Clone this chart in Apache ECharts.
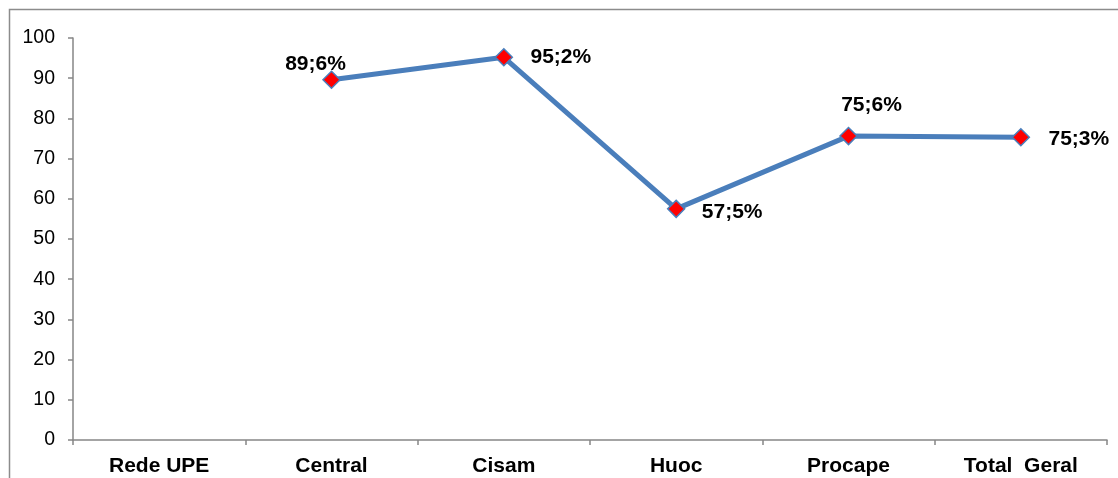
<!DOCTYPE html>
<html>
<head>
<meta charset="utf-8">
<script src="https://cdn.jsdelivr.net/npm/echarts@6/dist/echarts.min.js"></script>
<style>
html,body{margin:0;padding:0;background:#fff;}
#chart{width:1118px;height:478px;}
</style>
</head>
<body>
<div id="chart"></div>
<script>
const categories = ['Rede UPE', 'Central', 'Cisam', 'Huoc', 'Procape', 'Total  Geral'];
const values = [null, 89.6, 95.2, 57.5, 75.6, 75.3];
const yTicks = { min: 0, max: 100, interval: 10 };
const labelOffsets = [[0, 0], [-16, -16], [57, 0], [56, 3], [23, -31], [58, 2]];

const chart = echarts.init(document.getElementById('chart'), null, { renderer: 'canvas' });
const fontFamily = '"Liberation Sans", Arial, sans-serif';

chart.setOption({
  animation: false,
  backgroundColor: '#fff',
  graphic: [{
    type: 'rect',
    shape: { x: 9.5, y: 9.5, width: 1200, height: 600 },
    style: { fill: 'none', stroke: '#8c8c8c', lineWidth: 1.5 },
    silent: true
  }],
  grid: { left: 73, right: 11, top: 38, bottom: 38, containLabel: false },
  xAxis: {
    type: 'category',
    data: categories,
    boundaryGap: true,
    axisLine: { lineStyle: { color: '#868686', width: 1.5 } },
    axisTick: { show: true, length: 5, lineStyle: { color: '#868686', width: 1.5 } },
    axisLabel: { color: '#000', fontFamily, fontWeight: 'bold', fontSize: 21, margin: 16, interval: 0 },
    splitLine: { show: false }
  },
  yAxis: {
    type: 'value',
    min: yTicks.min, max: yTicks.max, interval: yTicks.interval,
    axisLine: { show: true, lineStyle: { color: '#868686', width: 1.5 } },
    axisTick: { show: true, length: 5, lineStyle: { color: '#868686', width: 1.5 } },
    axisLabel: { color: '#000', fontFamily, fontSize: 19.5, margin: 18 },
    splitLine: { show: false }
  },
  series: [{
    type: 'line',
    data: values.map((v, i) => ({
      value: v,
      label: {
        show: v != null,
        position: 'inside',
        offset: labelOffsets[i]
      }
    })),
    connectNulls: false,
    symbol: 'diamond',
    symbolSize: 17,
    showSymbol: true,
    lineStyle: { color: '#4a7ebb', width: 5 },
    itemStyle: { color: '#ff0000', borderColor: '#4a7ebb', borderWidth: 1.5 },
    label: {
      show: true,
      color: '#000',
      fontFamily,
      fontWeight: 'bold',
      fontSize: 21,
      formatter: p => p.value == null ? '' : p.value.toFixed(1).replace('.', ';') + '%'
    }
  }]
});
</script>
</body>
</html>
